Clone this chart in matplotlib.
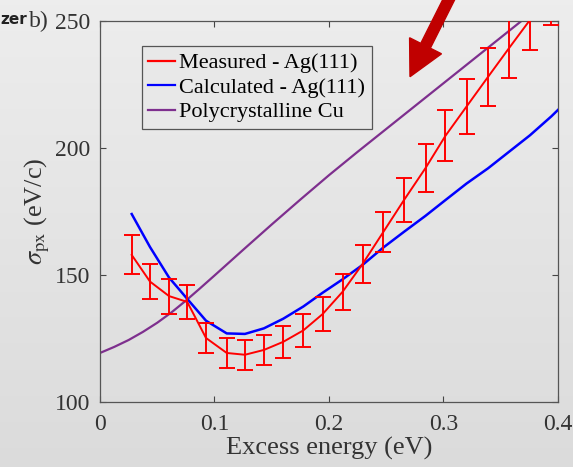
import numpy as np
import matplotlib
matplotlib.use('Agg')
import matplotlib.pyplot as plt
from matplotlib.patches import FancyArrow
from matplotlib.lines import Line2D
from matplotlib.transforms import IdentityTransform

# Measured - Ag(111) with error bars
meas_x = [0.0277, 0.0437, 0.0603, 0.0762, 0.0926, 0.1107, 0.1266, 0.1432, 0.1601, 0.1776, 0.1944,
          0.2119, 0.2294, 0.2474, 0.2655, 0.2843, 0.3017, 0.3201, 0.3389, 0.3572, 0.3755, 0.3943]
meas_y = [157.9, 147.4, 141.7, 139.4, 125.2, 119.3, 118.6, 120.5, 123.7, 128.2, 134.6,
          143.4, 154.4, 166.9, 179.5, 192.1, 204.8, 216.3, 228.0, 239.3, 250.4, 261.0]
meas_err = [7.7, 6.9, 6.9, 6.8, 5.9, 5.9, 6.0, 5.9, 6.2, 6.4, 6.6,
            7.0, 7.4, 8.0, 8.7, 9.4, 10.1, 10.8, 11.3, 11.8, 12.0, 12.5]

# Calculated - Ag(111)
calc_x = [0.0277, 0.0437, 0.0603, 0.0762, 0.0926, 0.1107, 0.1266, 0.1432, 0.1601, 0.1776, 0.1944,
          0.2119, 0.2294, 0.2474, 0.2655, 0.2843, 0.3017, 0.3201, 0.3389, 0.3572, 0.3755, 0.3943, 0.4]
calc_y = [174.0, 161.0, 149.0, 140.6, 132.0, 127.0, 126.8, 129.0, 132.8, 137.6, 143.0,
          148.3, 154.0, 160.8, 167.0, 173.3, 179.5, 186.0, 192.0, 198.5, 205.0, 212.5, 215.0]

# Polycrystalline Cu
cu_x = [0, 0.0125, 0.025, 0.0375, 0.05, 0.0625, 0.075, 0.0875, 0.1, 0.125, 0.15, 0.175, 0.2, 0.225,
        0.25, 0.275, 0.3, 0.325, 0.35, 0.375, 0.4]
cu_y = [119.3, 121.7, 124.4, 127.6, 131.2, 135.3, 139.9, 144.8, 149.8, 159.9, 169.9, 179.7, 189.3,
        198.5, 207.5, 216.5, 225.5, 234.5, 243.5, 252.5, 261.5]

xticks = [0, 0.1, 0.2, 0.3, 0.4]
xtick_labels = ['0', '0.1', '0.2', '0.3', '0.4']
yticks = [100, 150, 200, 250]

plt.rcParams['font.family'] = ['Liberation Serif', 'DejaVu Serif']
plt.rcParams['mathtext.fontset'] = 'stix'

fig = plt.figure(figsize=(5.73, 4.67), dpi=100)

# grey slide background
bg = fig.add_axes([0, 0, 1, 1], zorder=-10)
grad = np.linspace(0.93, 0.86, 256).reshape(-1, 1)
bg.imshow(np.dstack([grad, grad, grad]), aspect='auto', extent=[0, 1, 0, 1])
bg.axis('off')

ax = fig.add_axes([0.1745, 0.1392, 0.7993, 0.8158])
ax.patch.set_alpha(0)

ax.plot(cu_x, cu_y, color='#7e2f8e', lw=1.6, zorder=2)
ax.plot(calc_x, calc_y, color='#0000ff', lw=1.8, zorder=3)
ax.errorbar(meas_x, meas_y, yerr=meas_err, color='#ff0000', lw=1.4, elinewidth=1.4,
            capsize=5.5, capthick=1.4, zorder=4)

ax.set_xlim(0, 0.4)
ax.set_ylim(100, 250)
ax.set_xticks(xticks)
ax.set_xticklabels(xtick_labels)
ax.set_yticks(yticks)
ax.tick_params(direction='in', length=4, width=0.8, top=True, right=True,
               labelsize=17, colors='#444444', labelcolor='#333333')
ax.tick_params(axis='x', pad=9)
ax.tick_params(axis='y', pad=7)
for s in ax.spines.values():
    s.set_color('#555555')
    s.set_linewidth(0.9)

ax.set_xlabel('Excess energy (eV)', fontsize=19, color='#333333', labelpad=1)
ax.set_ylabel(r'$\sigma_{\rm px}$ (eV/c)', fontsize=19, color='#333333', labelpad=2)

handles = [Line2D([], [], color='#ff0000', lw=1.6),
           Line2D([], [], color='#0000ff', lw=1.6),
           Line2D([], [], color='#7e2f8e', lw=1.6)]
labels = ['Measured - Ag(111)', 'Calculated - Ag(111)', 'Polycrystalline Cu']
leg = ax.legend(handles, labels, loc='upper left', bbox_to_anchor=(0.091, 0.934), borderaxespad=0,
                fontsize=16, fancybox=False, framealpha=1, facecolor='#e8e8e8',
                edgecolor='#555555', handlelength=1.2, handletextpad=0.2,
                labelspacing=0.18, borderpad=0.3)
leg.get_frame().set_linewidth(0.9)

# cropped panel label in the top-left corner
fig.text(0.0, 0.948, 'zer', fontsize=11, fontweight='bold', family='DejaVu Sans', color='#222222')
fig.text(0.05, 0.942, 'b)', fontsize=17, color='#333333')

# red arrow pointing at the Cu curve
arrow = FancyArrow(452.6, 475, 410 - 452.6, 390.3 - 475, width=10.7, head_width=35.7,
                   head_length=34.6, length_includes_head=True, color='#c00000',
                   transform=IdentityTransform())
fig.patches.append(arrow)

fig.savefig('out.png', dpi=100)
